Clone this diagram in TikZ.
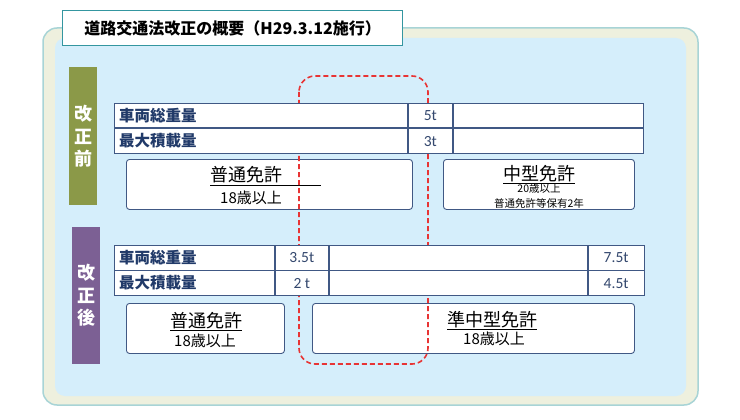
\documentclass[tikz,border=0pt]{standalone}
\usepackage{fontspec}
\setmainfont{Noto Sans CJK JP}
\newfontfamily\numfont{Carlito}
\usetikzlibrary{positioning}
\definecolor{frameLine}{RGB}{168,212,214}
\definecolor{frameCream}{RGB}{238,240,222}
\definecolor{skyFill}{RGB}{213,238,251}
\definecolor{titleLine}{RGB}{52,150,160}
\definecolor{oliveTag}{RGB}{139,153,72}
\definecolor{purpleTag}{RGB}{124,96,148}
\definecolor{tblLine}{RGB}{64,88,132}
\definecolor{tblText}{RGB}{33,58,105}
\definecolor{valText}{RGB}{52,72,110}
\definecolor{dashRed}{RGB}{232,52,52}

\begin{document}
\begin{tikzpicture}[x=1pt,y=-1pt,
      tag/.style={text=white,font=\bfseries\fontsize{18}{22.5}\selectfont,align=center,
                  minimum width=28pt,minimum height=138pt,anchor=north west,inner sep=0pt},
      cell/.style={draw=tblLine,fill=white,line width=0.9pt,minimum width=#1,
                   minimum height=24.5pt,anchor=north west,inner sep=0pt},
      lbl/.style={text=tblText,font=\bfseries\fontsize{15.5}{17}\selectfont,inner sep=0pt},
      val/.style={text=valText,font=\numfont\fontsize{15.5}{17}\selectfont},
      lic/.style={draw=tblLine,fill=white,line width=0.9pt,rounded corners=3pt,
                  minimum height=50pt,minimum width=#1,anchor=north west,inner sep=0pt},
      big/.style={font=\fontsize{18}{20}\selectfont,inner sep=0pt},
      age/.style={font=\fontsize{15}{17}\selectfont,inner sep=0pt,anchor=base},
      note/.style={font=\fontsize{10.5}{12}\selectfont,inner sep=0pt,anchor=base}]
    \useasboundingbox (0,0) rectangle (740,420);
    \fill[white] (0,0) rectangle (740,420);
    % frame
    \draw[frameLine,fill=frameCream,line width=1.5pt,rounded corners=14pt] (43,28) rectangle (698,405);
    \fill[skyFill,rounded corners=10pt] (55,38) rectangle (686,396);
    \node[draw=titleLine,line width=1.2pt,fill=white,minimum width=340pt,minimum height=35pt,
          anchor=north west,inner sep=0pt,font=\bfseries\fontsize{16}{18}\selectfont]
          (title) at (62,10) {道路交通法改正の概要（H29.3.12施行）};
    \node[tag,fill=oliveTag] (before) at (69,67) {改\\正\\前};
    \node[tag,fill=purpleTag,minimum height=137pt] (after) at (72,227) {改\\正\\後};
    % licence boxes
    \node[lic=286pt] (preStd) at (126,159) {};
    \node[big,anchor=base west] (preStdN) at (210,182) {\underline{普通免許\hspace{39pt}}};
    \node[age] (preStdA) at (251,203) {18歳以上};
    \node[lic=191pt] (preMid) at (443,159) {};
    \node[big,anchor=base] (preMidN) at (539,180) {\underline{中型免許}};
    \node[note] (preMidA) at (539,192) {20歳以上};
    \node[note] (preMidB) at (539,207) {普通免許等保有2年};
    \node[lic=158pt] (postStd) at (126,303) {};
    \node[big,anchor=base] (postStdN) at (206,327) {\underline{普通免許}};
    \node[age] (postStdA) at (205,346) {18歳以上};
    \node[lic=322pt] (postSemi) at (312,303) {};
    \node[big,anchor=base] (postSemiN) at (492,326) {\underline{準中型免許}};
    \node[age] (postSemiA) at (494,344) {18歳以上};
    % dashed marker
    \draw[dashRed,line width=1.6pt,dash pattern=on 5pt off 3pt,rounded corners=16pt]
      (299,76) rectangle (428,364);
    % before table
    \node[cell=293pt] (preTotal) at (114,103) {};
    \node[cell=44pt,val,right=0pt of preTotal] (preTotalV) {5t};
    \node[cell=190pt,right=0pt of preTotalV] (preTotalR) {};
    \node[cell=293pt,below=0pt of preTotal] (preLoad) {};
    \node[cell=44pt,val,right=0pt of preLoad] (preLoadV) {3t};
    \node[cell=190pt,right=0pt of preLoadV] (preLoadR) {};
    \node[lbl,right=5pt of preTotal.west] (preTotalL) {車両総重量};
    \node[lbl,right=5pt of preLoad.west] (preLoadL) {最大積載量};
    % after table
    \node[cell=160pt] (postTotal) at (114,245) {};
    \node[cell=53pt,val,right=0pt of postTotal] (postTotalV) {3.5t};
    \node[cell=258pt,right=0pt of postTotalV] (postTotalM) {};
    \node[cell=56pt,val,right=0pt of postTotalM] (postTotalR) {7.5t};
    \node[cell=160pt,below=0pt of postTotal] (postLoad) {};
    \node[cell=53pt,val,right=0pt of postLoad] (postLoadV) {2 t};
    \node[cell=258pt,right=0pt of postLoadV] (postLoadM) {};
    \node[cell=56pt,val,right=0pt of postLoadM] (postLoadR) {4.5t};
    \node[lbl,right=5pt of postTotal.west] (postTotalL) {車両総重量};
    \node[lbl,right=5pt of postLoad.west] (postLoadL) {最大積載量};
  \end{tikzpicture}
\end{document}
